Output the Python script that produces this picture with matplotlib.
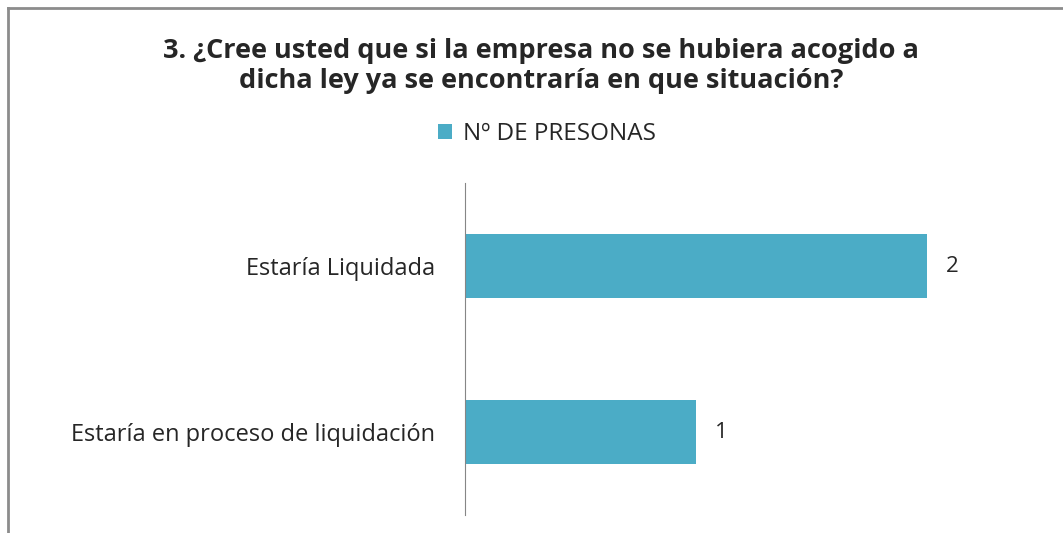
import matplotlib
matplotlib.use("Agg")
import matplotlib.pyplot as plt
from matplotlib.lines import Line2D

# datos
categorias = ["Estaría Liquidada", "Estaría en proceso de liquidación"]
personas = [2, 1]
serie = "Nº DE PRESONAS"
titulo = "3. ¿Cree usted que si la empresa no se hubiera acogido a\ndicha ley ya se encontraría en que situación?"

azul = "#4BACC6"
texto = "#262626"

plt.rcParams["font.family"] = ["Open Sans", "DejaVu Sans"]

fig = plt.figure(figsize=(10.63, 5.33), dpi=100)
ax = fig.add_axes([465 / 1063, 1 - 515 / 533, 2.3 * 231 / 1063, 332 / 533])

y = range(len(categorias))
barras = ax.barh(y, personas, height=0.39, color=azul, label=serie)
ax.set_ylim(-0.5, 1.5)
ax.invert_yaxis()
ax.set_xlim(0, 2.3)

ax.set_yticks(list(y))
ax.set_yticklabels(categorias, fontsize=17, color=texto)
ax.tick_params(axis="y", length=0, pad=21.6)
ax.set_xticks([])
for s in ["top", "right", "bottom"]:
    ax.spines[s].set_visible(False)
ax.spines["left"].set_color("#868686")

for i, v in enumerate(personas):
    ax.text(v + 0.108, i, str(v), va="center", ha="center", fontsize=16, color=texto)

fig.text(0.509, 0.877, titulo, ha="center", va="center", fontsize=19.5,
         fontweight="bold", color=texto, linespacing=1.2)

fig.legend(handles=[barras], loc="center", bbox_to_anchor=(0.5146, 0.7486),
           frameon=False, fontsize=17.5, handlelength=0.6, handleheight=0.6,
           handletextpad=0.45, labelcolor=texto)

# borde del grafico
fig.add_artist(Line2D([8 / 1063, 1], [1 - 8 / 533, 1 - 8 / 533], color="#8c8c8c", lw=2))
fig.add_artist(Line2D([8 / 1063, 8 / 1063], [0, 1 - 8 / 533], color="#8c8c8c", lw=2))

fig.savefig("out.png", dpi=100)
